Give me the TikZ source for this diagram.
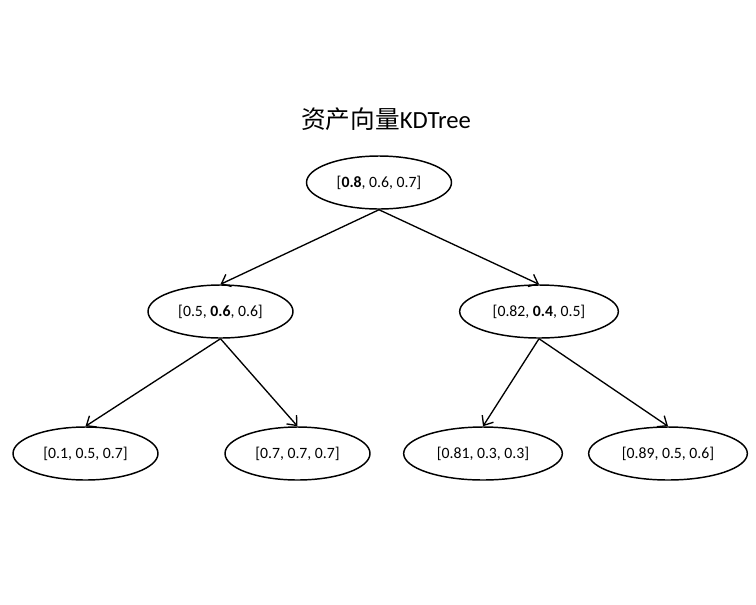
\documentclass[tikz,border=0pt]{standalone}
\usepackage{fontspec}
\setmainfont{Carlito}
\newfontfamily\cjk{Noto Sans CJK SC}
\usetikzlibrary{arrows.meta,shapes.geometric}

\begin{document}
\begin{tikzpicture}[x=0.75pt,y=-0.75pt,font=\fontsize{11.8}{14}\selectfont,
  kd/.style={ellipse,draw,line width=1.1pt,inner sep=0pt,minimum height=39.75pt,minimum width=108.75pt},
  wide/.style={minimum width=119pt},
  link/.style={line width=1pt,-{Straight Barb[length=6pt,width=10pt]}}]
\useasboundingbox (0,0) rectangle (756,604);
\node (title) at (386,119) {\fontsize{18.5}{22}\selectfont{\cjk 资产向量}KDTree};
\node[kd] (root) at (379,182.5) {[\textbf{0.8}, 0.6, 0.7]};
\node[kd] (l) at (220.5,311.5) {[0.5, \textbf{0.6}, 0.6]};
\node[kd,wide] (r) at (539,311.5) {[0.82, \textbf{0.4}, 0.5]};
\node[kd] (ll) at (85.5,453.5) {[0.1, 0.5, 0.7]};
\node[kd] (lr) at (297.5,453.5) {[0.7, 0.7, 0.7]};
\node[kd,wide] (rl) at (483,453.5) {[0.81, 0.3, 0.3]};
\node[kd,wide] (rr) at (668,453.5) {[0.89, 0.5, 0.6]};
\foreach \p/\c in {root/l,root/r,l/ll,l/lr,r/rl,r/rr}
  \draw[link] (\p.south) -- (\c.north);
\end{tikzpicture}
\end{document}
